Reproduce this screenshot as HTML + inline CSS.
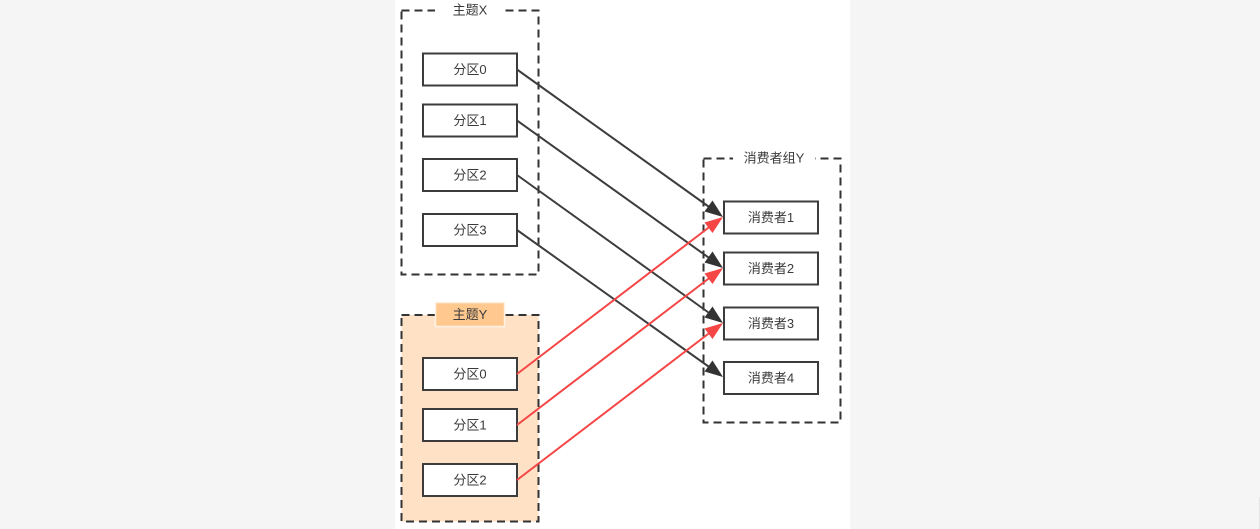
<!DOCTYPE html>
<html>
<head>
<meta charset="utf-8">
<style>
html,body{margin:0;padding:0;width:1260px;height:529px;overflow:hidden;background:#f5f5f5}
svg{display:block}
text{font-family:"Liberation Sans","Noto Sans CJK SC",sans-serif;font-size:13px;fill:#3a3a3a;text-anchor:middle}
.g{fill:none;stroke:#333;stroke-width:2;stroke-dasharray:8 5}
.b{fill:#fff;stroke:#3c3c3c;stroke-width:2}
.k{stroke:#3d3d3d;stroke-width:2;fill:none}
.r{stroke:#f54545;stroke-width:2;fill:none}
</style>
</head>
<body>
<svg width="1260" height="529" viewBox="0 0 1260 529" xmlns="http://www.w3.org/2000/svg">
<rect x="395" y="0" width="455" height="529" fill="#fff"/>
<rect x="1259" y="497" width="1" height="32" fill="#e4e4e4"/>

<!-- group X -->
<rect class="g" x="401.500" y="10.500" width="137" height="264"/>
<rect x="435" y="3" width="70" height="16" fill="#fff"/>
<text x="470" y="14.500">主题X</text>

<!-- group Y topic -->
<rect x="401.500" y="315" width="137" height="206.500" fill="#ffe2c6" stroke="none"/>
<rect class="g" x="401.500" y="315" width="137" height="206.500"/>
<rect x="435.500" y="302.500" width="69" height="24" fill="#ffc88f" stroke="#fff2e4" stroke-width="1.500"/>
<text x="470" y="319">主题Y</text>

<!-- consumer group -->
<rect class="g" x="703.500" y="158.500" width="137" height="264"/>
<rect x="733" y="150" width="82" height="16" fill="#fff"/>
<text x="774" y="162.500">消费者组Y</text>

<!-- partition boxes -->
<rect class="b" x="423" y="53.500" width="94" height="32"/><text x="470" y="74">分区0</text>
<rect class="b" x="423" y="104.500" width="94" height="32"/><text x="470" y="125">分区1</text>
<rect class="b" x="423" y="159" width="94" height="32"/><text x="470" y="179.500">分区2</text>
<rect class="b" x="423" y="214" width="94" height="32"/><text x="470" y="234.500">分区3</text>

<rect class="b" x="423" y="358" width="94" height="32"/><text x="470" y="378.500">分区0</text>
<rect class="b" x="423" y="409" width="94" height="32"/><text x="470" y="429.500">分区1</text>
<rect class="b" x="423" y="464" width="94" height="32"/><text x="470" y="484.500">分区2</text>

<!-- consumer boxes -->
<rect class="b" x="724" y="201.500" width="94" height="32"/><text x="771" y="222">消费者1</text>
<rect class="b" x="724" y="252.500" width="94" height="32"/><text x="771" y="273">消费者2</text>
<rect class="b" x="724" y="307.500" width="94" height="32"/><text x="771" y="328">消费者3</text>
<rect class="b" x="724" y="362" width="94" height="32"/><text x="771" y="382.500">消费者4</text>

<!-- black connectors -->
<path class="k" d="M517 69.500L712 209"/>
<path d="M723 217L704.500 211.500L712.500 200.500Z" fill="#333"/>
<path class="k" d="M517 120.500L712 260"/>
<path d="M723 268L704.500 262.500L712.500 251.500Z" fill="#333"/>
<path class="k" d="M517 175L712 315"/>
<path d="M723 323L704.500 317.500L712.500 306.500Z" fill="#333"/>
<path class="k" d="M517 230L712 369"/>
<path d="M723 377L704.500 371.500L712.500 360.500Z" fill="#333"/>

<!-- red connectors -->
<path class="r" d="M517 374L712 225"/>
<path d="M723 217L712.500 233L704.500 222.500Z" fill="#f54545"/>
<path class="r" d="M517 425L712 276"/>
<path d="M723 268L712.500 284L704.500 273.500Z" fill="#f54545"/>
<path class="r" d="M517 480L712 331"/>
<path d="M723 323L712.500 339L704.500 328.500Z" fill="#f54545"/>
</svg>
</body>
</html>
